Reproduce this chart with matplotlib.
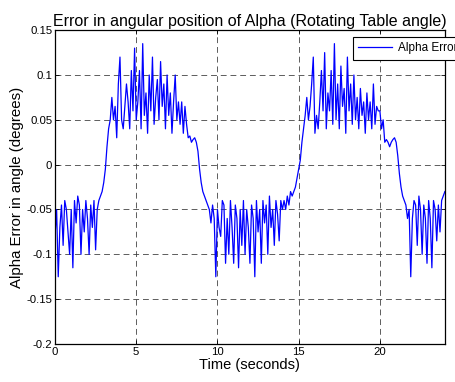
import numpy as np
import matplotlib
matplotlib.use("Agg")
import matplotlib.pyplot as plt

plt.rcParams['font.family'] = ['Liberation Sans', 'DejaVu Sans']

# sample interval of the logged error (seconds)
dt = 0.1

# alpha error (degrees), one sample every dt
alpha_err = [
    # 0.0 - 2.6  (low side)
    -0.080, -0.050, -0.125, -0.070, -0.045, -0.090, -0.040, -0.050, -0.075, -0.100,
    -0.050, -0.115, -0.040, -0.065, -0.035, -0.045, -0.100, -0.050, -0.075, -0.040,
    -0.060, -0.100, -0.045, -0.070, -0.040, -0.095, -0.050,
    # 2.7 - 3.9  (rise)
    -0.040, -0.035, -0.030, -0.020, -0.005, 0.020, 0.040, 0.050, 0.075, 0.050,
    0.065, 0.030, 0.090,
    # 4.0 - 7.6  (high side)
    0.120, 0.050, 0.040, 0.065, 0.090, 0.070, 0.040, 0.105, 0.060, 0.130,
    0.050, 0.070, 0.105, 0.040, 0.135, 0.055, 0.080, 0.035, 0.100, 0.060,
    0.120, 0.045, 0.075, 0.095, 0.050, 0.115, 0.065, 0.090, 0.040, 0.100,
    0.055, 0.080, 0.035, 0.070, 0.100, 0.050, 0.070,
    # 7.7 - 9.6  (fall)
    0.045, 0.070, 0.035, 0.065, 0.045, 0.030, 0.032, 0.025, 0.028, 0.030,
    0.025, 0.015, -0.005, -0.020, -0.030, -0.035, -0.040, -0.045, -0.050, -0.065,
    # 9.7 - 14.5  (low side)
    -0.045, -0.060, -0.125, -0.050, -0.070, -0.080, -0.040, -0.045, -0.110, -0.060,
    -0.100, -0.040, -0.070, -0.110, -0.045, -0.060, -0.115, -0.050, -0.090, -0.040,
    -0.100, -0.050, -0.070, -0.110, -0.045, -0.060, -0.125, -0.040, -0.075, -0.050,
    -0.110, -0.040, -0.065, -0.045, -0.100, -0.035, -0.070, -0.050, -0.090, -0.040,
    -0.055, -0.085, -0.040, -0.050, -0.040, -0.050, -0.035, -0.045, -0.030,
    # 14.6 - 15.6  (rise)
    -0.035, -0.030, -0.025, -0.015, -0.005, 0.005, 0.025, 0.040, 0.055, 0.075,
    0.050,
    # 15.7 - 19.9  (high side)
    0.065, 0.090, 0.120, 0.035, 0.055, 0.040, 0.070, 0.105, 0.060, 0.125,
    0.040, 0.080, 0.060, 0.105, 0.045, 0.135, 0.050, 0.090, 0.040, 0.110,
    0.065, 0.085, 0.035, 0.120, 0.060, 0.090, 0.045, 0.100, 0.050, 0.075,
    0.040, 0.085, 0.055, 0.070, 0.035, 0.080, 0.050, 0.070, 0.040, 0.090,
    0.045, 0.065, 0.060,
    # 20.0 - 21.7  (fall)
    0.060, 0.040, 0.050, 0.025, 0.028, 0.025, 0.020, 0.025, 0.028, 0.030,
    0.025, 0.010, -0.010, -0.025, -0.035, -0.040, -0.045, -0.060,
    # 21.8 - 24.0  (low side)
    -0.050, -0.125, -0.060, -0.040, -0.045, -0.090, -0.035, -0.050, -0.100, -0.045,
    -0.060, -0.110, -0.040, -0.060, -0.115, -0.040, -0.050, -0.085, -0.045, -0.075,
    -0.040, -0.035, -0.030,
]

time_s = np.arange(len(alpha_err)) * dt

xticks = [0, 5, 10, 15, 20]
yticks = [-0.2, -0.15, -0.1, -0.05, 0, 0.05, 0.1, 0.15]
ytick_labels = ["-0.2", "-0.15", "-0.1", "-0.05", "0", "0.05", "0.1", "0.15"]

fig = plt.figure(figsize=(4.56, 3.82), dpi=100)
ax = fig.add_axes([0.1206, 0.0995, 0.855, 0.8215])

ax.plot(time_s, alpha_err, color="#0000ff", lw=0.9, label="Alpha Error")

ax.set_xlim(0, 24)
ax.set_ylim(-0.2, 0.15)
ax.set_xticks(xticks)
ax.set_yticks(yticks)
ax.set_yticklabels(ytick_labels)
ax.tick_params(direction="in", length=3, width=0.6, labelsize=8.2,
               top=True, right=True, pad=2)
for s in ax.spines.values():
    s.set_linewidth(0.9)

ax.grid(True, color="#333333", ls=(0, (6, 4)), lw=0.7, alpha=0.8)

ax.set_title("Error in angular position of Alpha (Rotating Table angle)",
             fontsize=11.5, pad=3)
ax.set_xlabel("Time (seconds)", fontsize=10.5, labelpad=1)
ax.set_ylabel("Alpha Error in angle (degrees)", fontsize=10.8, labelpad=2)

leg = ax.legend(loc="upper right", bbox_to_anchor=(1.045, 0.978), fontsize=8.5,
                fancybox=False, framealpha=1, edgecolor="black",
                borderpad=0.45, handlelength=2.9, handletextpad=0.45, borderaxespad=0)
leg.get_frame().set_linewidth(0.8)

fig.savefig("out.png", dpi=100)
